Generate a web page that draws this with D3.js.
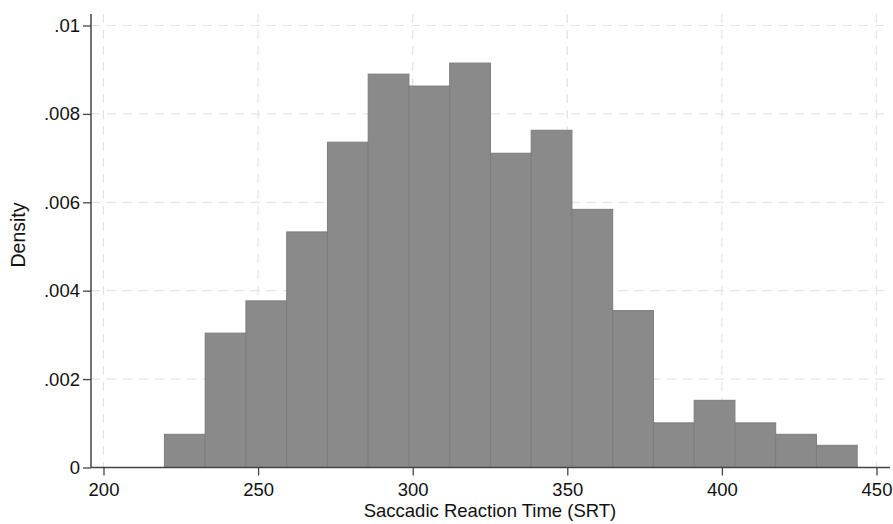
<!DOCTYPE html>
<html><head><meta charset="utf-8">
<script src="https://cdn.jsdelivr.net/npm/d3@7"></script>
<style>body{margin:0;background:#fff}svg{display:block}text{font-family:"Liberation Sans",Arial,sans-serif;fill:#111}</style>
</head><body><svg id="c" width="893" height="524"></svg>
<script>
const binStart = 219.7;
const binWidth = 13.18;
const densities = [0.000751,0.00304,0.00377,0.00533,0.00736,0.00890,0.00863,0.00915,0.00711,0.00763,0.00584,0.00355,0.00101,0.00152,0.00101,0.000751,0.000502];
const xTicks = [200,250,300,350,400,450];
const yTicks = [0,0.002,0.004,0.006,0.008,0.01];
const yTickLabels = ["0",".002",".004",".006",".008",".01"];

(function(){
const svg = d3.select("#c");
const x = d3.scaleLinear().domain([200,450]).range([103.5,876.5]);
const y = d3.scaleLinear().domain([0,0.01]).range([467.5,25.5]);
const pL = 91, pR = 890, pT = 14, pB = 467.5;
const fs = 18.5;

const grid = svg.append("g").attr("stroke","#e3e3e3").attr("stroke-width",1.2).attr("stroke-dasharray","9,7");
grid.selectAll("line.v").data(xTicks).join("line").attr("class","v")
  .attr("x1",d=>x(d)).attr("x2",d=>x(d)).attr("y1",pT).attr("y2",pB);
grid.selectAll("line.h").data(yTicks.slice(1)).join("line").attr("class","h")
  .attr("x1",pL).attr("x2",pR-6).attr("y1",d=>y(d)).attr("y2",d=>y(d));

svg.append("g").selectAll("rect").data(densities).join("rect")
  .attr("x",(d,i)=>x(binStart+i*binWidth))
  .attr("width",(d,i)=>x(binStart+(i+1)*binWidth)-x(binStart+i*binWidth))
  .attr("y",d=>y(d)).attr("height",d=>pB-y(d))
  .attr("fill","#8a8a8a").attr("stroke","#7d7d7d").attr("stroke-width",1);

const xa = svg.append("g").attr("transform",`translate(0,${pB})`)
  .call(d3.axisBottom(x).tickValues(xTicks).tickSize(8).tickPadding(7));
xa.select(".domain").attr("d",`M${pL},0H${pR}`).attr("stroke","#444").attr("stroke-width",1.5);
xa.selectAll(".tick line").attr("stroke","#444").attr("stroke-width",1.3);
xa.selectAll("text").attr("font-size",fs).style("fill","#111");

const ya = svg.append("g").attr("transform",`translate(${pL},0)`)
  .call(d3.axisLeft(y).tickValues(yTicks).tickFormat((d,i)=>yTickLabels[i]).tickSize(8).tickPadding(3));
ya.select(".domain").attr("d",`M0,${pT}V${pB}`).attr("stroke","#444").attr("stroke-width",1.5);
ya.selectAll(".tick line").attr("stroke","#444").attr("stroke-width",1.3);
ya.selectAll("text").attr("font-size",fs).style("fill","#111");
svg.selectAll(".domain").attr("fill","none");

svg.append("text").attr("x",490).attr("y",517).attr("text-anchor","middle").attr("font-size",18.5).text("Saccadic Reaction Time (SRT)");
svg.append("text").attr("transform",`translate(25,235) rotate(-90)`).attr("text-anchor","middle").attr("font-size",19.5).text("Density");
})();
</script></body></html>
